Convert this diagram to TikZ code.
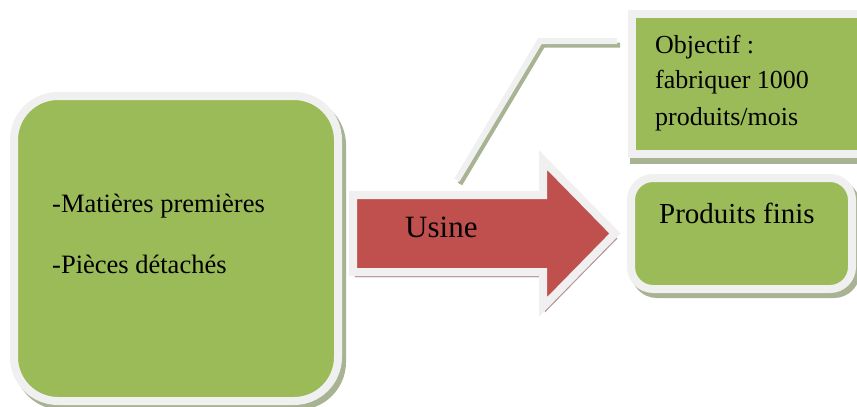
\documentclass[tikz,border=0pt]{standalone}
\usepackage{fontspec}
\setmainfont{Liberation Serif}
\definecolor{leaf}{HTML}{9BBB59}
\definecolor{rim}{HTML}{F0F0F0}
\definecolor{leafshade}{HTML}{A8B394}
\definecolor{brick}{HTML}{C0504D}
\definecolor{brickshade}{HTML}{B49494}
\begin{document}
\begin{tikzpicture}[x=1pt,y=-1pt,
  greenbox/.style={fill=leaf, draw=rim, line width=8pt, inner sep=0pt, outer sep=0pt,
    preaction={draw=leafshade, fill=leafshade, transform canvas={shift={(4pt,-5pt)}}}},
  redarrow/.style={fill=brick, draw=rim, line width=8pt, line join=miter,
    preaction={draw=brickshade, fill=brickshade, transform canvas={shift={(2pt,-5pt)}}}},
  label/.style={anchor=base west, inner sep=0pt, font=\fontsize{26.5}{30}\selectfont},
]
\clip (0,0) rectangle (857,407);
\fill[white] (0,0) rectangle (857,407);

% inputs box
\node[greenbox, rounded corners=44pt, minimum width=324pt, minimum height=305pt]
  (inputs) at (176,248.5) {};
\node[label] (mp) at (52,212) {-Matières premières};
\node[label] (pd) at (52,273) {-Pièces détachés};

% the factory arrow
\draw[redarrow] (353,195) -- (543,195) -- (543,160) -- (615,233.5)
  -- (543,307) -- (543,272) -- (353,272) -- cycle;
\node[label, font=\fontsize{31}{36}\selectfont] (usine) at (405,237) {Usine};

% objective box with its callout line
\node[greenbox, preaction={draw=leafshade, fill=leafshade, transform canvas={shift={(2pt,-6pt)}}},
  minimum width=248pt, minimum height=140pt] (objectif) at (756,84) {};
\node[label, font=\fontsize{26}{30}\selectfont] (obj1) at (655,53) {Objectif :};
\node[label, font=\fontsize{26}{30}\selectfont] (obj2) at (655,88) {fabriquer 1000};
\node[label, font=\fontsize{26}{30}\selectfont] (obj3) at (655,125) {produits/mois};

\coordinate (calloutA) at (617,41);
\coordinate (calloutB) at (540,41);
\coordinate (calloutC) at (457,180);
\draw[leafshade, line width=5pt, transform canvas={shift={(3pt,-4pt)}}]
  (calloutA) -- (calloutB) -- (calloutC);
\draw[rim, line width=6pt] (calloutA) -- (calloutB) -- (calloutC);

% output box
\node[greenbox, rounded corners=22pt, minimum width=221pt, minimum height=111pt]
  (produits) at (741.5,233.5) {};
\node[label, font=\fontsize{29}{34}\selectfont] (pf) at (659,223) {Produits finis};
\end{tikzpicture}
\end{document}
